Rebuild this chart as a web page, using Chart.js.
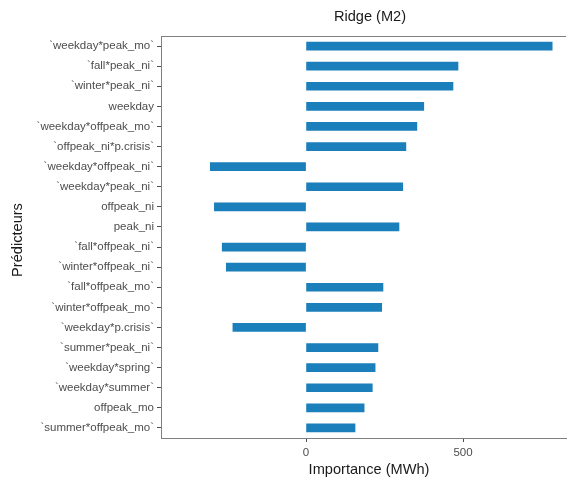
<!DOCTYPE html>
<html>
<head>
<meta charset="utf-8">
<script src="https://cdn.jsdelivr.net/npm/chart.js@4"></script>
<style>
  html, body { margin: 0; padding: 0; background: #fff; }
  #wrap { width: 567px; height: 480px; }
</style>
</head>
<body>
<div id="wrap"><canvas id="c" width="567" height="480"></canvas></div>
<script>
// Ridge (M2) coefficient importances, in MWh
const predictors = [
  "`weekday*peak_mo`", "`fall*peak_ni`", "`winter*peak_ni`", "weekday",
  "`weekday*offpeak_mo`", "`offpeak_ni*p.crisis`", "`weekday*offpeak_ni`",
  "`weekday*peak_ni`", "offpeak_ni", "peak_ni", "`fall*offpeak_ni`",
  "`winter*offpeak_ni`", "`fall*offpeak_mo`", "`winter*offpeak_mo`",
  "`weekday*p.crisis`", "`summer*peak_ni`", "`weekday*spring`",
  "`weekday*summer`", "offpeak_mo", "`summer*offpeak_mo`"
];
const importance = [
  784, 484, 468, 375, 353, 318, -305, 308, -292, 296,
  -267, -254, 245, 241, -233, 229, 220, 211, 185, 156
];
const xTicks = [0, 500];

const FONT = "'Liberation Sans', Arial, sans-serif";

const frame = {
  id: 'frame',
  afterDraw(chart) {
    const { ctx, chartArea: a } = chart;
    ctx.save();
    // panel top edge
    ctx.strokeStyle = '#7f7f7f';
    ctx.lineWidth = 1;
    ctx.beginPath();
    ctx.moveTo(a.left, a.top + 0.5);
    ctx.lineTo(a.right, a.top + 0.5);
    ctx.stroke();
    // titles
    ctx.fillStyle = '#1a1a1a';
    ctx.font = '14.6px ' + FONT;
    ctx.textAlign = 'center';
    ctx.textBaseline = 'middle';
    ctx.fillText('Ridge (M2)', 370, 17);
    ctx.fillText('Importance (MWh)', 369, 470);
    ctx.translate(18, 240);
    ctx.rotate(-Math.PI / 2);
    ctx.fillText('Prédicteurs', 0, 0);
    ctx.restore();
  }
};

new Chart(document.getElementById('c'), {
  type: 'bar',
  data: {
    labels: predictors,
    datasets: [{
      data: importance,
      backgroundColor: '#1a7fba',
      borderWidth: 0,
      barThickness: 8
    }]
  },
  options: {
    indexAxis: 'y',
    responsive: false,
    animation: false,
    layout: { padding: { top: 36, right: 1, left: 0, bottom: 0 } },
    plugins: { legend: { display: false }, tooltip: { enabled: false } },
    scales: {
      x: {
        min: -462,
        max: 828,
        afterBuildTicks(s) { s.ticks = xTicks.map(v => ({ value: v })); },
        afterFit(s) { s.height = 42; },
        grid: { drawOnChartArea: false, drawTicks: true, tickLength: 4, color: '#4d4d4d' },
        border: { display: true, color: '#7f7f7f', width: 1 },
        ticks: { color: '#4d4d4d', font: { family: FONT, size: 11.5 }, padding: 4, maxRotation: 0 }
      },
      y: {
        afterFit(s) { s.width = 161; },
        grid: { offset: false, drawOnChartArea: false, drawTicks: true, tickLength: 4, color: '#4d4d4d' },
        border: { display: true, color: '#7f7f7f', width: 1 },
        ticks: { color: '#4d4d4d', font: { family: FONT, size: 11.5 }, padding: 3, autoSkip: false }
      }
    }
  },
  plugins: [frame]
});
</script>
</body>
</html>
